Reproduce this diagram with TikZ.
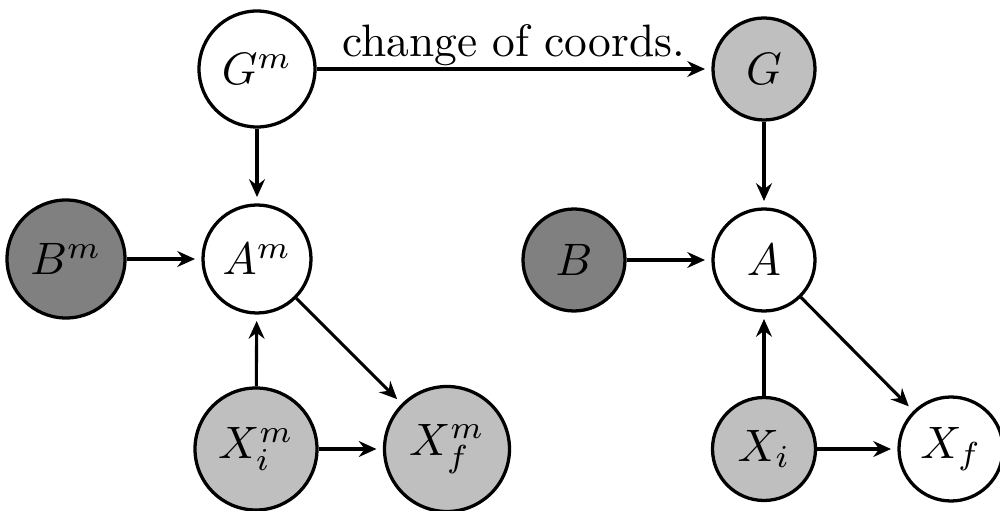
\documentclass[tikz,border=0pt]{standalone}
\usetikzlibrary{arrows.meta}
\begin{document}
\begin{tikzpicture}[x=0.22pt,y=-0.22pt,
  var/.style={circle,draw,line width=0.72pt,inner sep=0pt,font=\normalsize},
  obs/.style={var,fill=black!25},
  hid/.style={var,fill=black!50},
  lat/.style={var,fill=white},
  edge/.style={line width=0.68pt,-{Stealth[length=3.9pt,width=3.5pt,inset=1.3pt]},shorten >=1.4pt}]
\useasboundingbox (0,0) rectangle (1000,511);
% left model
\node[lat,minimum size=116*0.22pt] (Gm) at (257,69) {$G^m$};
\node[hid,minimum size=118*0.22pt] (Bm) at (66,259) {$B^m$};
\node[lat,minimum size=108*0.22pt] (Am) at (257,259) {$A^m$};
\node[obs,minimum size=122*0.22pt] (Xim) at (256,449) {$X_i^m$};
\node[obs,minimum size=125*0.22pt] (Xfm) at (447,449) {$X_f^m$};
% right model
\node[obs,minimum size=102*0.22pt] (G) at (764,69) {$G$};
\node[hid,minimum size=102*0.22pt] (B) at (574,260) {$B$};
\node[lat,minimum size=102*0.22pt] (A) at (764,260) {$A$};
\node[obs,minimum size=103*0.22pt] (Xi) at (764,449) {$X_i$};
\node[lat,minimum size=104*0.22pt] (Xf) at (951,449) {$X_f$};
% edges
\draw[edge] (Gm) -- node[midway,above,inner sep=0pt,yshift=0.4pt]{change of coords.} (G);
\draw[edge] (Gm) -- (Am);
\draw[edge] (Bm) -- (Am);
\draw[edge] (Xim) -- (Am);
\draw[edge] (Am) -- (Xfm);
\draw[edge] (Xim) -- (Xfm);
\draw[edge] (G) -- (A);
\draw[edge] (B) -- (A);
\draw[edge] (Xi) -- (A);
\draw[edge] (A) -- (Xf);
\draw[edge] (Xi) -- (Xf);
\end{tikzpicture}
\end{document}
